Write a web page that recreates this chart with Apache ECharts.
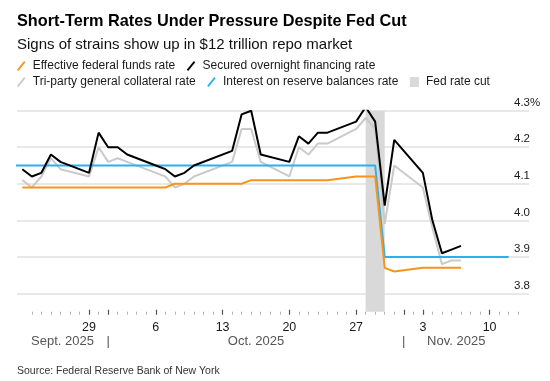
<!DOCTYPE html>
<html><head><meta charset="utf-8">
<script src="https://cdn.jsdelivr.net/npm/echarts@6/dist/echarts.min.js"></script>
<style>html,body{margin:0;padding:0;background:#fff}#c{width:550px;height:381px}</style>
</head><body><div id="c"></div>
<script>
// ---- data ----
const dates = ['2025-09-22','2025-09-23','2025-09-24','2025-09-25','2025-09-26',
  '2025-09-29','2025-09-30','2025-10-01','2025-10-02','2025-10-03',
  '2025-10-06','2025-10-07','2025-10-08','2025-10-09','2025-10-10',
  '2025-10-14','2025-10-15','2025-10-16','2025-10-17',
  '2025-10-20','2025-10-21','2025-10-22','2025-10-23','2025-10-24',
  '2025-10-27','2025-10-28','2025-10-29','2025-10-30','2025-10-31',
  '2025-11-03','2025-11-04','2025-11-05','2025-11-06','2025-11-07'];
const sofr = [4.14,4.12,4.13,4.18,4.16, 4.13,4.24,4.20,4.20,4.18, 4.15,4.14,4.12,4.13,4.15,
  4.19,4.29,4.30,4.18, 4.16,4.23,4.21,4.24,4.24, 4.27,4.31,4.27,4.04,4.22, 4.13,4.00,3.91,3.92,3.93];
const tgcr = [4.11,4.09,4.12,4.17,4.14, 4.12,4.20,4.16,4.17,4.16, 4.13,4.12,4.09,4.10,4.12,
  4.16,4.25,4.25,4.16, 4.12,4.20,4.18,4.21,4.21, 4.25,4.28,4.25,3.99,4.15, 4.09,3.98,3.88,3.89,3.89];
const effr = [4.09,4.09,4.09,4.09,4.09, 4.09,4.09,4.09,4.09,4.09, 4.09,4.09,4.10,4.10,4.10,
  4.10,4.10,4.11,4.11, 4.11,4.11,4.11,4.11,4.11, 4.12,4.12,4.12,3.87,3.86, 3.87,3.87,3.87,3.87,3.87];
const iorbDates = ['2025-09-19','2025-10-29','2025-10-30','2025-11-12'];
const iorb = [4.15,4.15,3.90,3.90];
const fedCut = ['2025-10-28','2025-10-30'];
const weekTicks = ['2025-09-29','2025-10-06','2025-10-13','2025-10-20','2025-10-27','2025-11-03','2025-11-10'];
const monthStarts = ['2025-10-01','2025-11-01'];
const monthNames = ['Sept. 2025','Oct. 2025','Nov. 2025'];
const yMin = 3.75, yMax = 4.3;

// ---- build: x values are UTC day numbers ----
const DAY = 86400000;
const t = s => Date.parse(s + 'T00:00:00Z') / DAY;
const xMin = t('2025-09-22') - 0.556;
const xMax = t('2025-11-14') + 0.13;
const F = '"Liberation Sans", Arial, Helvetica, sans-serif';

const dayTicks = [];
for (let v = t('2025-09-23'); v <= t('2025-11-13'); v += 1) dayTicks.push(v);
const majorTicks = weekTicks.map(t).concat(monthStarts.map(t));
const bounds = [xMin].concat(monthStarts.map(t), [t(iorbDates[iorbDates.length - 1])]);
const monthCenters = monthNames.map((n, i) => (bounds[i] + bounds[i + 1]) / 2);
const monthLabel = v => {
  for (let i = 0; i < monthCenters.length; i++) if (Math.abs(v - monthCenters[i]) < 1e-6) return monthNames[i];
  for (const s of monthStarts) if (Math.abs(v - t(s)) < 1e-6) return '|';
  return '';
};

const pairs = (ds, vs) => ds.map((d, i) => [t(d), vs[i]]);
const slash = 'path://M0,10 L8,0 L9.6,1.3 L1.6,11.3 Z';

const baseX = {type: 'value', min: xMin, max: xMax, position: 'bottom', offset: 3,
  axisLine: {show: false}, splitLine: {show: false}};

const lineS = (name, data, color, z) => ({
  name, type: 'line', data, symbol: 'none', showSymbol: false, z,
  lineStyle: {color, width: 2}, itemStyle: {color}, emphasis: {disabled: true}
});

const chart = echarts.init(document.getElementById('c'), null, {renderer: 'canvas'});
chart.setOption({
  animation: false,
  textStyle: {fontFamily: F},
  title: [
    {text: 'Short-Term Rates Under Pressure Despite Fed Cut', left: 17, top: 13.5, padding: 0,
     textStyle: {fontSize: 16.3, fontWeight: 'bold', color: '#000', fontFamily: F}},
    {text: 'Signs of strains show up in $12 trillion repo market', left: 17, top: 37, padding: 0,
     textStyle: {fontSize: 15, fontWeight: 'normal', color: '#111', fontFamily: F}},
    {text: 'Source: Federal Reserve Bank of New York', left: 17, top: 366, padding: 0,
     textStyle: {fontSize: 10.5, fontWeight: 'normal', color: '#333', fontFamily: F}}
  ],
  legend: [
    {left: 17, top: 60, padding: 0, itemWidth: 9, itemHeight: 10, itemGap: 11.5, selectedMode: false,
     textStyle: {fontSize: 12, color: '#1a1a1a', fontFamily: F, padding: [0, 0, 0, 2]},
     data: [{name: 'Effective federal funds rate', icon: slash},
            {name: 'Secured overnight financing rate', icon: slash}]},
    {left: 17, top: 76, padding: 0, itemWidth: 9, itemHeight: 10, itemGap: 11.5, selectedMode: false,
     textStyle: {fontSize: 12, color: '#1a1a1a', fontFamily: F, padding: [0, 0, 0, 2]},
     data: [{name: 'Tri-party general collateral rate', icon: slash},
            {name: 'Interest on reserve balances rate', icon: slash},
            {name: 'Fed rate cut', icon: 'rect'}]}
  ],
  grid: {left: 17, right: 21, top: 110.7, bottom: 69.3, containLabel: false, outerBoundsMode: 'none'},
  xAxis: [
    Object.assign({}, baseX, {
      axisTick: {show: true, inside: true, length: 3, customValues: dayTicks, lineStyle: {color: '#b5b5b5', width: 1}},
      axisLabel: {show: false}}),
    Object.assign({}, baseX, {
      axisTick: {show: true, inside: true, length: 5, customValues: majorTicks, lineStyle: {color: '#555', width: 1.2}},
      axisLabel: {show: true, customValues: weekTicks.map(t), margin: 6.5, fontSize: 12.5, color: '#1a1a1a',
        fontFamily: F, formatter: v => String(new Date(Math.round(v) * DAY).getUTCDate())}}),
    Object.assign({}, baseX, {
      axisTick: {show: false},
      axisLabel: {show: true, customValues: monthCenters.concat(monthStarts.map(t)), margin: 20, fontSize: 13,
        color: '#555', fontFamily: F, formatter: monthLabel}})
  ],
  yAxis: {
    type: 'value', min: yMin, max: yMax, position: 'right',
    axisLine: {show: false}, axisTick: {show: false},
    splitLine: {show: true, showMinLine: false, lineStyle: {color: '#e0e0e0', width: 1.5}},
    axisLabel: {show: true, margin: -15, align: 'left', verticalAlign: 'bottom', padding: [0, 0, 2, 0],
      fontSize: 11.5, color: '#1a1a1a', fontFamily: F, showMinLabel: false, showMaxLabel: true,
      formatter: v => Math.abs(v - yMax) < 1e-9 ? v.toFixed(1) + '%' : v.toFixed(1)}
  },
  series: [
    {name: 'Fed rate cut', type: 'line', data: [], symbol: 'none', z: 1,
     itemStyle: {color: '#d9d9d9'}, lineStyle: {color: '#d9d9d9'},
     markArea: {silent: true, itemStyle: {color: '#d9d9d9'},
       data: [[{xAxis: t(fedCut[0])}, {xAxis: t(fedCut[1])}]]}},
    lineS('Tri-party general collateral rate', pairs(dates, tgcr), '#cacaca', 2),
    lineS('Interest on reserve balances rate', pairs(iorbDates, iorb), '#2bb0ee', 3),
    lineS('Effective federal funds rate', pairs(dates, effr), '#f7941e', 4),
    lineS('Secured overnight financing rate', pairs(dates, sofr), '#000000', 5)
  ]
});
</script></body></html>
